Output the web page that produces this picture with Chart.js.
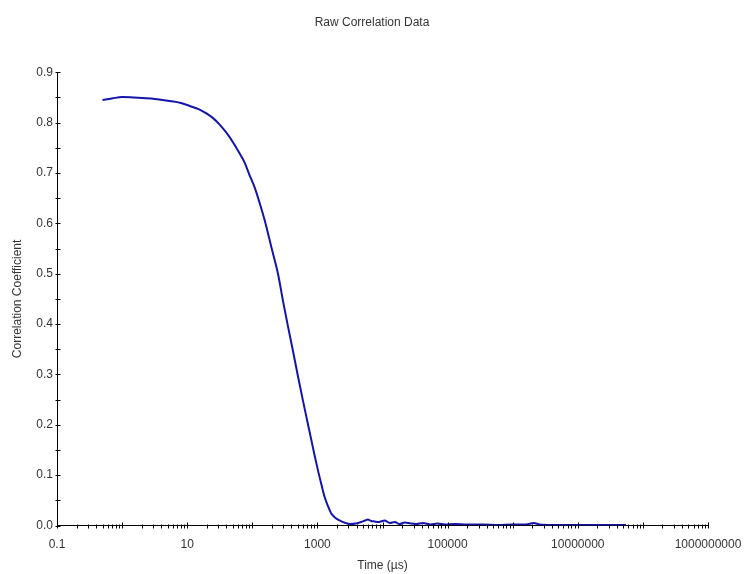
<!DOCTYPE html>
<html>
<head>
<meta charset="utf-8">
<title>Raw Correlation Data</title>
<script src="https://cdn.jsdelivr.net/npm/chart.js@4"></script>
<style>
  body { margin: 0; background: #fff; }
  canvas { display: block; }
</style>
</head>
<body>
<canvas id="chart" width="744" height="574"></canvas>
<script>
// delay times in microseconds
const times = [
  0.5, 0.7, 1.0, 1.5, 2.8, 5.4, 8, 11, 15, 20, 25, 31, 40, 51, 63, 76, 90,
  109, 130, 155, 196, 248, 296, 350, 421, 500, 600, 700, 806, 910, 1018,
  1150, 1288, 1450, 1633, 1900, 2188, 2700, 3200, 3900, 4700, 5400, 5957,
  6700, 7540, 8800, 10740, 13000, 15500, 18200, 22000, 27000, 33000, 42000,
  55000, 70000, 90000, 130000, 200000, 350000, 600000, 1000000, 1600000,
  2100000, 2600000, 4000000, 8000000, 15000000, 30000000, 55000000
];
const correlation = [
  0.845, 0.848, 0.851, 0.850, 0.848, 0.843, 0.839, 0.833, 0.827, 0.818, 0.809,
  0.797, 0.780, 0.760, 0.740, 0.721, 0.697, 0.671, 0.640, 0.606, 0.553, 0.500,
  0.446, 0.398, 0.347, 0.298, 0.248, 0.207, 0.170, 0.138, 0.110, 0.082, 0.057,
  0.039, 0.024, 0.015, 0.010, 0.005, 0.003, 0.004, 0.007, 0.010, 0.012, 0.009,
  0.008, 0.007, 0.010, 0.005, 0.007, 0.003, 0.006, 0.004, 0.003, 0.005, 0.002,
  0.004, 0.002, 0.003, 0.002, 0.002, 0.001, 0.002, 0.002, 0.005, 0.002, 0.001,
  0.001, 0.001, 0.001, 0.001
];

const xTickValues = [0.1, 10, 1000, 100000, 10000000, 1000000000];
const xTickLabels = ['0.1', '10', '1000', '100000', '10000000', '1000000000'];

const textColor = '#333';
const fontFamily = "'Liberation Sans', Arial, sans-serif";

// small tick marks on both axes (decades / 0.05 steps)
const axisTicks = {
  id: 'axisTicks',
  afterDraw(chart) {
    const { ctx, scales: { x, y } } = chart;
    const axisY = Math.round(x.top) + 0.5;
    const axisX = Math.round(y.right) + 0.5;
    ctx.save();
    ctx.strokeStyle = '#000';
    ctx.lineWidth = 1;
    ctx.beginPath();
    for (let e = -1; e <= 9; e++) {
      for (let m = 1; m <= 9; m++) {
        const v = m * Math.pow(10, e);
        if (v > x.max * 1.0001) break;
        const px = Math.round(x.getPixelForValue(v)) + 0.5;
        const up = m === 1 ? 4 : 2;
        ctx.moveTo(px, axisY - up);
        ctx.lineTo(px, axisY + 2);
      }
    }
    for (let i = 0; i <= 18; i++) {
      const py = Math.round(y.getPixelForValue(i * 0.05)) + 0.5;
      ctx.moveTo(axisX - 2, py);
      ctx.lineTo(axisX + 3, py);
    }
    ctx.stroke();
    ctx.restore();
  }
};

new Chart(document.getElementById('chart'), {
  type: 'line',
  data: {
    datasets: [{
      label: 'Correlation',
      data: times.map((t, i) => ({ x: t, y: correlation[i] })),
      borderColor: '#1414a8',
      borderWidth: 2,
      pointRadius: 0,
      cubicInterpolationMode: 'monotone',
      fill: false
    }]
  },
  options: {
    responsive: false,
    animation: false,
    layout: { padding: 0 },
    plugins: {
      legend: { display: false },
      tooltip: { enabled: false },
      title: {
        display: true,
        text: 'Raw Correlation Data',
        color: textColor,
        font: { family: fontFamily, size: 12, weight: 'normal' },
        padding: { top: 15.5, bottom: 42.4 }
      }
    },
    scales: {
      x: {
        type: 'logarithmic',
        min: 0.1,
        max: 1000000000,
        afterBuildTicks: (scale) => {
          scale.ticks = xTickValues.map(v => ({ value: v }));
        },
        afterFit: (scale) => {
          scale.height = 48.5;
          scale.paddingLeft = 0;
          scale.paddingRight = 0;
        },
        grid: { display: false, drawTicks: false },
        border: { display: true, color: '#000', width: 1 },
        ticks: {
          autoSkip: false,
          maxRotation: 0,
          padding: 12,
          color: textColor,
          font: { family: fontFamily, size: 12 },
          callback: (value, index) => xTickLabels[index]
        },
        title: {
          display: true,
          text: 'Time (µs)',
          color: textColor,
          font: { family: fontFamily, size: 12 },
          padding: { top: 0, bottom: 1 }
        }
      },
      y: {
        min: 0,
        max: 0.9,
        afterFit: (scale) => { scale.width = 57; },
        grid: { display: false, drawTicks: false },
        border: { display: true, color: '#000', width: 1 },
        ticks: {
          stepSize: 0.1,
          padding: 4,
          color: textColor,
          font: { family: fontFamily, size: 12 },
          callback: (value) => Number(value).toFixed(1)
        },
        title: {
          display: true,
          text: 'Correlation Coefficient',
          color: textColor,
          font: { family: fontFamily, size: 12 },
          padding: { top: 10, bottom: 0 }
        }
      },
      spacer: {
        position: 'right',
        display: true,
        afterFit: (scale) => { scale.width = 36; },
        grid: { display: false, drawTicks: false },
        border: { display: false },
        ticks: { display: false }
      }
    }
  },
  plugins: [axisTicks]
});
</script>
</body>
</html>
